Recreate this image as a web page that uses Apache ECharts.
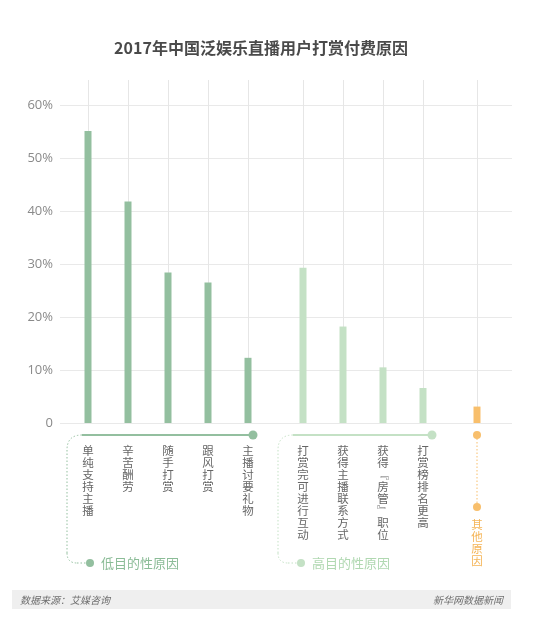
<!DOCTYPE html>
<html><head><meta charset="utf-8">
<script src="https://cdn.jsdelivr.net/npm/echarts@6/dist/echarts.min.js"></script>
<style>html,body{margin:0;padding:0;background:#fff}#c{width:550px;height:621px}</style>
</head><body><div id="c"></div>
<script>
const titleText = '2017年中国泛娱乐直播用户打赏付费原因';
const lowCats = ['单纯支持主播','辛苦酬劳','随手打赏','跟风打赏','主播讨要礼物'];
const lowVals = [55.1, 41.8, 28.4, 26.5, 12.3];
const highCats = ['打赏完可进行互动','获得主播联系方式','获得﹃房管﹄职位','打赏榜排名更高'];
const highVals = [29.3, 18.2, 10.5, 6.6];
const otherCats = ['其他原因'];
const otherVals = [3.1];
const yMin = 0, yMax = 60, yStep = 10;
const groupNames = ['低目的性原因','高目的性原因'];
const sourceText = '数据来源：艾媒咨询';
const creditText = '新华网数据新闻';

const lowColor = '#93bf9f', highColor = '#c4e1c5', otherColor = '#f8bf6c';
const lowText = '#8bbc97', highText = '#b0d8b1', otherText = '#f5b558';
const FONT = '"Noto Sans CJK SC", "Noto Sans", sans-serif';

const chart = echarts.init(document.getElementById('c'), null, {renderer: 'canvas'});
const gridTop = 105, gridBottom = 198;
const vertical = v => v.split('').join('\n');
function catAxis(grid, data, color, margin) {
  return {
    type: 'category', gridIndex: grid, data: data, boundaryGap: true,
    axisLine: {show: false},
    axisTick: {show: true, alignWithLabel: true, inside: true, length: 343, lineStyle: {color: '#e6e6e6', width: 1}},
    axisLabel: {interval: 0, formatter: vertical, margin: margin, fontSize: 11.5, lineHeight: 12,
      color: color, fontFamily: FONT}
  };
}
function hiddenY(grid) {
  return {type: 'value', gridIndex: grid, min: yMin, max: yMax, interval: yStep, show: false};
}
chart.setOption({
  animation: false,
  grid: [
    {left: 60, right: 38, top: gridTop, bottom: gridBottom},
    {left: 68, width: 200, top: gridTop, bottom: gridBottom},
    {left: 283, width: 160, top: gridTop, bottom: gridBottom},
    {left: 457, width: 40, top: gridTop, bottom: gridBottom}
  ],
  xAxis: [
    {type: 'value', gridIndex: 0, show: false},
    catAxis(1, lowCats, '#666', 22),
    catAxis(2, highCats, '#666', 22),
    catAxis(3, otherCats, otherText, 96)
  ],
  yAxis: [
    {type: 'value', gridIndex: 0, min: yMin, max: yMax, interval: yStep,
      axisLine: {show: false}, axisTick: {show: false},
      splitLine: {lineStyle: {color: '#e9e9e9', width: 1}},
      axisLabel: {margin: 7, fontSize: 13, color: '#8a8a8a', fontFamily: '"Open Sans", sans-serif',
        formatter: v => v === 0 ? '0' : v + '%'}},
    hiddenY(1), hiddenY(2), hiddenY(3)
  ],
  series: [
    {type: 'bar', xAxisIndex: 1, yAxisIndex: 1, data: lowVals, barWidth: 7, itemStyle: {color: lowColor}, z: 3},
    {type: 'bar', xAxisIndex: 2, yAxisIndex: 2, data: highVals, barWidth: 7, itemStyle: {color: highColor}, z: 3},
    {type: 'bar', xAxisIndex: 3, yAxisIndex: 3, data: otherVals, barWidth: 7, itemStyle: {color: otherColor}, z: 3}
  ]
});

// decorations positioned from the axes
const p = (g, i) => chart.convertToPixel({gridIndex: g}, [i, 0]);
const lowFirst = p(1, 0), lowLast = p(1, lowCats.length - 1);
const highFirst = p(2, 0), highLast = p(2, highCats.length - 1);
const oth = p(3, 0);
const yLine = lowFirst[1] + 12, yBottom = lowFirst[1] + 140, yOther = lowFirst[1] + 84;
const dotted = c => ({fill: null, stroke: c, lineWidth: 1, lineDash: [1.5, 2]});

function bracket(x1, x2, color, tcolor, name) {
  const xl = x1 - 15, xd = x1 + 8;
  return [
    {type: 'line', shape: {x1: x1, y1: yLine, x2: x2, y2: yLine}, style: {stroke: color, lineWidth: 2}},
    {type: 'circle', shape: {cx: x2, cy: yLine, r: 4.5}, style: {fill: color}},
    {type: 'bezierCurve', shape: {x1: x1, y1: yLine, cpx1: xl, cpy1: yLine, x2: xl, y2: yLine + 15}, style: dotted(color)},
    {type: 'line', shape: {x1: xl, y1: yLine + 15, x2: xl, y2: yBottom - 10}, style: dotted(color)},
    {type: 'bezierCurve', shape: {x1: xl, y1: yBottom - 10, cpx1: xl, cpy1: yBottom, x2: xl + 10, y2: yBottom}, style: dotted(color)},
    {type: 'line', shape: {x1: xl + 10, y1: yBottom, x2: xd, y2: yBottom}, style: dotted(color)},
    {type: 'circle', shape: {cx: xd, cy: yBottom, r: 4}, style: {fill: color}},
    {type: 'text', x: xd + 11, y: yBottom, style: {text: name, fill: tcolor, font: '13px ' + FONT, textVerticalAlign: 'middle'}}
  ];
}
const graphics = [
  {type: 'text', x: 261, y: 48, style: {text: titleText, fill: '#4a4a4a', font: 'bold 16px ' + FONT, textAlign: 'center', textVerticalAlign: 'middle'}},
  ...bracket(lowFirst[0] - 6, lowLast[0] + 5, lowColor, lowText, groupNames[0]),
  ...bracket(highFirst[0] - 10, highLast[0] + 9, highColor, highText, groupNames[1]),
  {type: 'circle', shape: {cx: oth[0], cy: yLine, r: 4}, style: {fill: otherColor}},
  {type: 'line', shape: {x1: oth[0], y1: yLine, x2: oth[0], y2: yOther}, style: dotted(otherColor)},
  {type: 'circle', shape: {cx: oth[0], cy: yOther, r: 4}, style: {fill: otherColor}},
  {type: 'rect', shape: {x: 12, y: 590, width: 499, height: 19}, style: {fill: '#efefef'}, z: -1},
  {type: 'text', x: 20, y: 600, style: {text: sourceText, fill: '#6f6f6f', font: 'italic 10px ' + FONT, textVerticalAlign: 'middle'}},
  {type: 'text', x: 503, y: 600, style: {text: creditText, fill: '#6f6f6f', font: 'italic 10px ' + FONT, textAlign: 'right', textVerticalAlign: 'middle'}}
];
chart.setOption({graphic: graphics});
</script>
</body></html>
